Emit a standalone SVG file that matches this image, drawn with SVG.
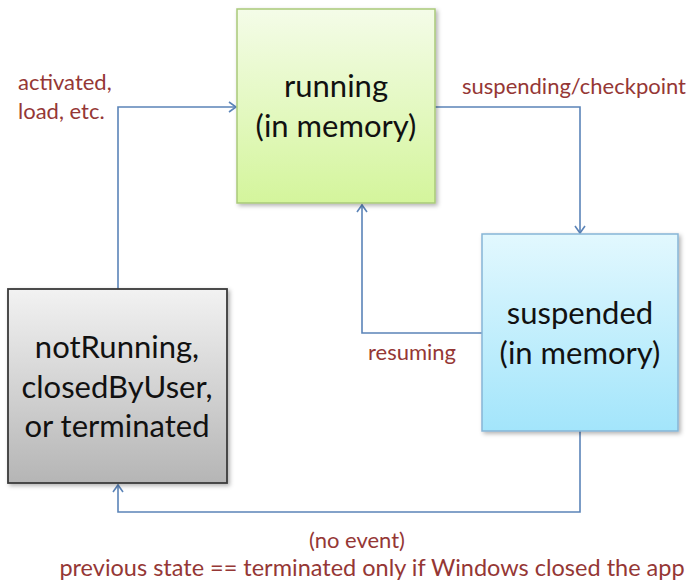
<svg xmlns="http://www.w3.org/2000/svg" width="688" height="582" viewBox="0 0 688 582">
<style>
.node{font-family:Lato,"Open Sans","Liberation Sans",sans-serif;font-size:31px;fill:#111;text-anchor:middle}
.lbl{font-family:Lato,"Open Sans","Liberation Sans",sans-serif;font-size:22px;fill:#953735}
.conn{fill:none;stroke:#5b84b8;stroke-width:1.6}
</style>
<defs>
<linearGradient id="gG" x1="0" y1="0" x2="0" y2="1"><stop offset="0" stop-color="#f4fce8"/><stop offset="1" stop-color="#d4f59c"/></linearGradient>
<linearGradient id="gB" x1="0" y1="0" x2="0" y2="1"><stop offset="0" stop-color="#e2f8fe"/><stop offset="1" stop-color="#a3e5fb"/></linearGradient>
<linearGradient id="gK" x1="0" y1="0" x2="0" y2="1"><stop offset="0" stop-color="#f2f2f2"/><stop offset="1" stop-color="#b5b5b5"/></linearGradient>
<filter id="sh" x="-10%" y="-10%" width="125%" height="125%"><feDropShadow dx="2" dy="2" stdDeviation="2" flood-color="#000" flood-opacity="0.3"/></filter>
<marker id="arr" markerWidth="12" markerHeight="12" refX="10" refY="6" orient="auto" markerUnits="userSpaceOnUse"><path d="M3,1 L10,6 L3,11" fill="none" stroke="#5b84b8" stroke-width="1.6"/></marker>
</defs>
<g id="connectors">
<path class="conn" d="M118,289 V107 H236" marker-end="url(#arr)"/>
<path class="conn" d="M435,107 H580 V233" marker-end="url(#arr)"/>
<path class="conn" d="M482,333 H362 V205" marker-end="url(#arr)"/>
<path class="conn" d="M580,431 V512 H118 V485" marker-end="url(#arr)"/>
</g>
<g id="running">
<rect x="237" y="9" width="198" height="194" fill="url(#gG)" stroke="#a9c97a" stroke-width="1.5" filter="url(#sh)"/>
<text class="node" x="336" y="97">running</text>
<text class="node" x="336" y="137">(in memory)</text>
</g>
<g id="suspended">
<rect x="482" y="234" width="196" height="197" fill="url(#gB)" stroke="#86b5d6" stroke-width="1.5" filter="url(#sh)"/>
<text class="node" x="580" y="324">suspended</text>
<text class="node" x="580" y="364">(in memory)</text>
</g>
<g id="notRunning">
<rect x="8" y="289" width="219" height="194" fill="url(#gK)" stroke="#3a3a3a" stroke-width="1.8" filter="url(#sh)"/>
<text class="node" x="117" y="358">notRunning,</text>
<text class="node" x="117" y="398">closedByUser,</text>
<text class="node" x="117" y="437">or terminated</text>
</g>
<g id="labels">
<text class="lbl" x="18" y="90">activated,</text>
<text class="lbl" x="18" y="119">load, etc.</text>
<text class="lbl" x="462" y="94">suspending/checkpoint</text>
<text class="lbl" x="368" y="360">resuming</text>
<text class="lbl" x="357" y="548" text-anchor="middle">(no event)</text>
<text class="lbl" x="372" y="576" text-anchor="middle" style="font-size:23.5px">previous state == terminated only if Windows closed the app</text>
</g>
</svg>
